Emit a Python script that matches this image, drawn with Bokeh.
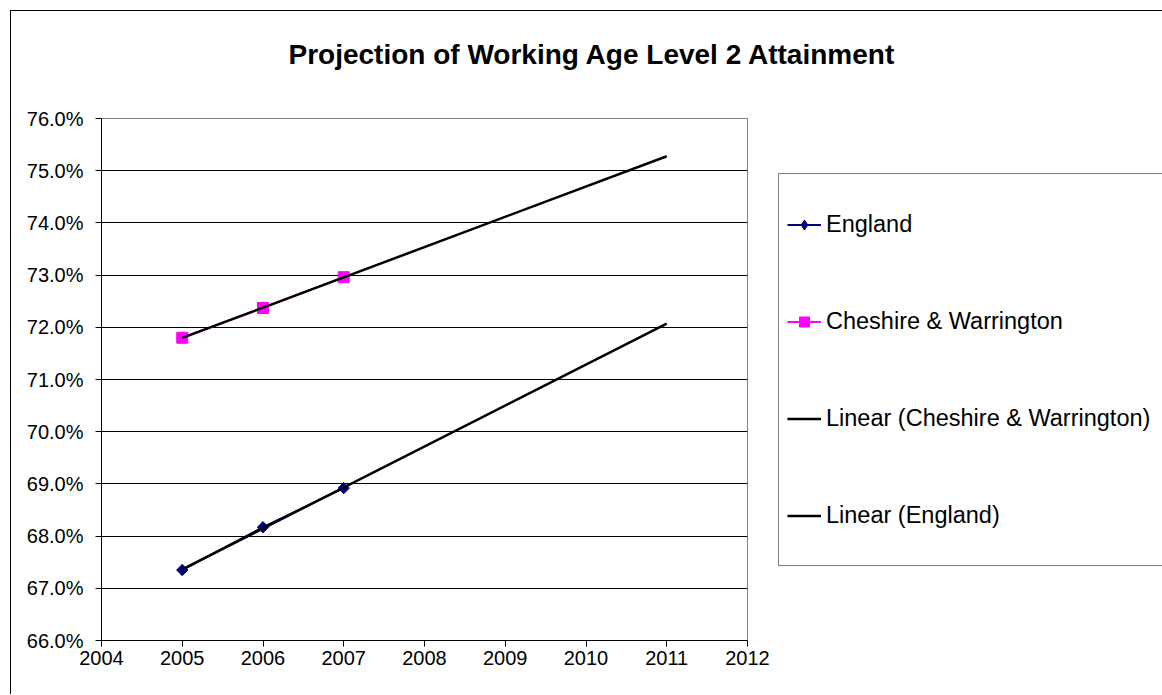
import numpy as np
from bokeh.plotting import figure
from bokeh.models import (Range1d, FixedTicker, NumeralTickFormatter, Legend,
                          LegendItem, Title)
from bokeh.embed import file_html
from bokeh.resources import INLINE

# Working age population qualified to Level 2 (share)
years = [2005, 2006, 2007]
england = [0.6735, 0.6817, 0.6892]
cheshire = [0.7180, 0.7237, 0.7296]

# Projection horizon for the linear trends
trend_years = [2005, 2011]

x_ticks = [2004, 2005, 2006, 2007, 2008, 2009, 2010, 2011, 2012]
y_ticks = [0.66, 0.67, 0.68, 0.69, 0.70, 0.71, 0.72, 0.73, 0.74, 0.75, 0.76]

FONT = "Liberation Sans"


def linear_trend(xs, ys, xout):
    slope, intercept = np.polyfit(xs, ys, 1)
    return [slope * x + intercept for x in xout]


p = figure(frame_width=646, frame_height=522,
           output_backend="svg", toolbar_location=None,
           x_range=Range1d(2004, 2012), y_range=Range1d(0.66, 0.76),
           min_border_left=90, min_border_right=0,
           min_border_top=107, min_border_bottom=54)

# chart area edge
p.styles = {"margin-left": "10px", "margin-top": "10px",
            "border-left": "1px solid black", "border-top": "1px solid black"}

# gap between the heading and the plot area
p.add_layout(Title(text=" ", text_font_size="1px", standoff=46), "above")

p.title.text = "Projection of Working Age Level 2 Attainment"
p.title.text_font = FONT
p.title.text_font_size = "28px"
p.title.text_font_style = "bold"
p.title.text_color = "black"
p.title.align = "left"
p.title.offset = 187
p.title.standoff = 0

p.outline_line_color = "#808080"
p.outline_line_width = 1
p.background_fill_color = "white"
p.border_fill_color = "white"

# Axes
for ax in (p.xaxis[0], p.yaxis[0]):
    ax.axis_line_color = "black"
    ax.axis_line_width = 1
    ax.major_tick_line_color = "black"
    ax.major_tick_in = 0
    ax.major_tick_out = 6
    ax.minor_tick_line_color = None
    ax.major_label_text_font = FONT
    ax.major_label_text_font_size = "20px"
    ax.major_label_text_color = "black"

p.xaxis.ticker = FixedTicker(ticks=x_ticks)
p.xaxis.major_label_standoff = 4
p.yaxis.ticker = FixedTicker(ticks=y_ticks)
p.yaxis.formatter = NumeralTickFormatter(format="0.0%")
p.yaxis.major_label_standoff = 12

p.xgrid.grid_line_color = None
p.ygrid.grid_line_color = "black"
p.ygrid.grid_line_width = 1

# Series
eng_line = p.line(years, england, line_color="#000080", line_width=2)
ches_line = p.line(years, cheshire, line_color="#FF00FF", line_width=2)
# diamond key for the legend, sitting beneath the rotated-square markers
eng_key = p.scatter(years, england, marker="diamond", size=9,
                    fill_color="#000080", line_color="#000080")
eng_pts = p.scatter(years, england, marker="square", angle=np.pi / 4, size=8,
                    fill_color="#000080", line_color="#000080")
ches_pts = p.scatter(years, cheshire, marker="square", size=11,
                     fill_color="#FF00FF", line_color="#FF00FF")

# Linear trend lines projected forward
ches_trend = p.line(trend_years, linear_trend(years, cheshire, trend_years),
                    line_color="black", line_width=2.5)
eng_trend = p.line(trend_years, linear_trend(years, england, trend_years),
                   line_color="black", line_width=2.5)

legend = Legend(items=[
    LegendItem(label="England", renderers=[eng_line, eng_key]),
    LegendItem(label="Cheshire & Warrington", renderers=[ches_line, ches_pts]),
    LegendItem(label="Linear (Cheshire & Warrington)", renderers=[ches_trend]),
    LegendItem(label="Linear (England)", renderers=[eng_trend]),
], location=(31, 74))
legend.padding = 8
legend.margin = 0
legend.spacing = 13
legend.glyph_width = 34
legend.glyph_height = 25
legend.label_height = 84
legend.label_width = 328
legend.label_standoff = 5
legend.label_text_font = FONT
legend.label_text_font_size = "23.5px"
legend.label_text_color = "black"
legend.border_line_color = "black"
legend.border_line_width = 1
legend.background_fill_color = "white"
legend.background_fill_alpha = 1
p.add_layout(legend, "right")

open("out.html", "w").write(file_html(p, INLINE))
